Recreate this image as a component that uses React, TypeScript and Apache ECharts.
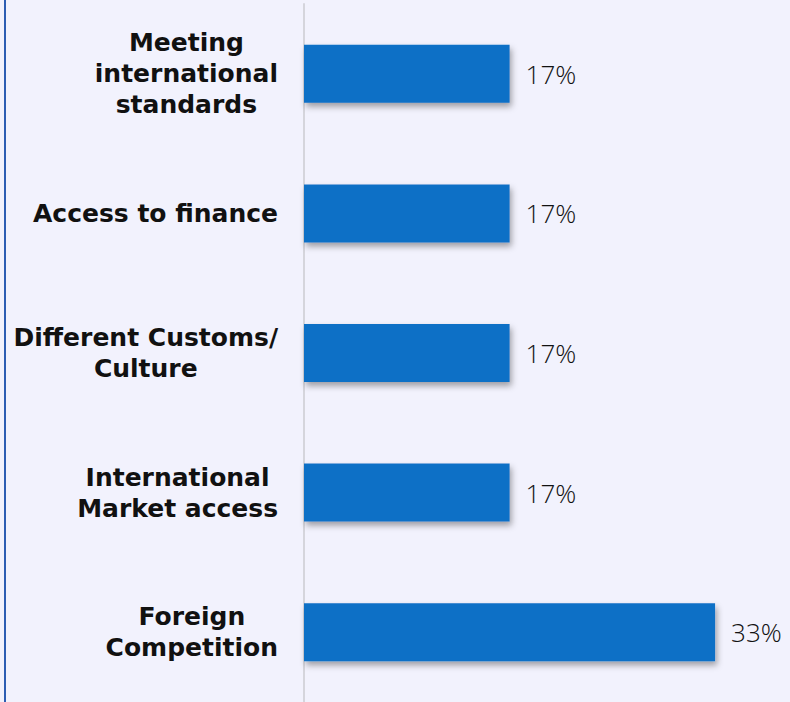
import React, { useEffect, useRef } from "react";
import * as echarts from "echarts";

const categories: string[] = [
  "Meeting\ninternational\nstandards",
  "Access to finance",
  "Different Customs/\nCulture",
  "International\nMarket access",
  "Foreign\nCompetition",
];
const values: number[] = [16.67, 16.67, 16.67, 16.67, 33.33];
const valueLabels: string[] = ["17%", "17%", "17%", "17%", "33%"];

export default function App() {
  const ref = useRef<HTMLDivElement>(null);
  useEffect(() => {
    document.body.style.margin = "0";
    const chart = echarts.init(ref.current!, null, { renderer: "svg" });
    chart.setOption({
      animation: false,
      backgroundColor: "#f2f2fd",
      graphic: [
        {
          type: "rect",
          left: 4,
          top: 0,
          shape: { width: 2, height: 702 },
          style: { fill: "#2d5db3" },
        },
      ],
      grid: { left: 304, top: 4, width: 444, height: 700, containLabel: false },
      xAxis: {
        type: "value",
        min: 0,
        max: 36,
        show: false,
      },
      yAxis: {
        type: "category",
        inverse: true,
        data: categories,
        axisLine: { show: true, lineStyle: { color: "#d5d5dc", width: 2 } },
        axisTick: { show: false },
        axisLabel: {
          margin: 26,
          formatter: (v: string) => v.split("\n").map((l) => `{a|${l}}`).join("\n"),
          rich: {
            a: {
              align: "center",
              fontFamily: "DejaVu Sans",
              fontWeight: "bold",
              fontSize: 25,
              lineHeight: 31,
              color: "#111111",
            },
          },
        },
      },
      series: [
        {
          type: "bar",
          data: values,
          barWidth: 58,
          itemStyle: {
            color: "#116fc6",
            shadowColor: "rgba(0,0,0,0.35)",
            shadowBlur: 6,
            shadowOffsetX: 2,
            shadowOffsetY: 4,
          },
          label: {
            show: true,
            position: "right",
            distance: 16,
            formatter: (p: any) => valueLabels[p.dataIndex],
            fontFamily: "Open Sans",
            fontWeight: 300,
            fontSize: 26,
            color: "#111111",
          },
        },
      ],
    });
    return () => chart.dispose();
  }, []);
  return <div ref={ref} style={{ width: 790, height: 702 }} />;
}
